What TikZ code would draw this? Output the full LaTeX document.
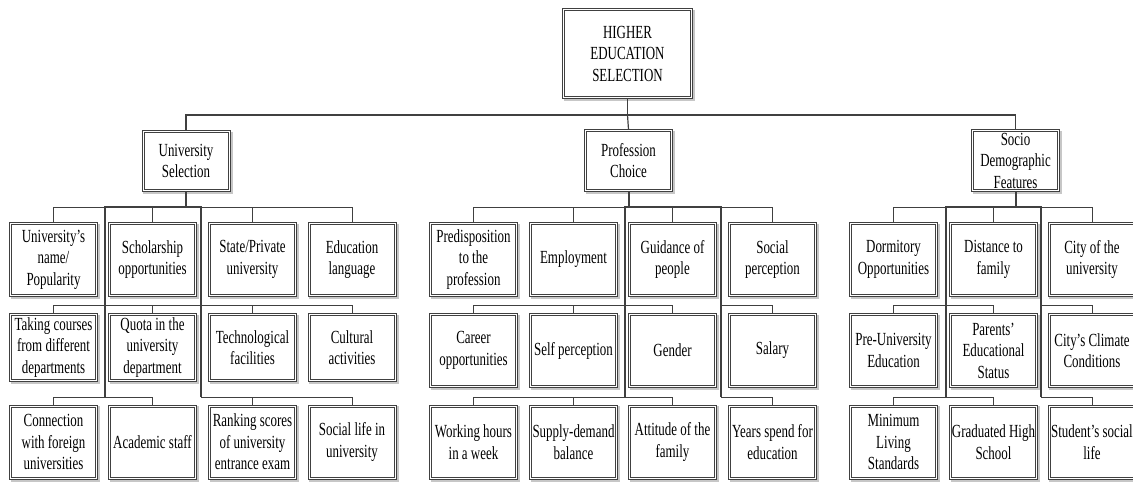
\documentclass[tikz,border=0pt]{standalone}
\usepackage{fontspec}
\setmainfont{Liberation Serif}[FakeStretch=0.7]
\tikzset{
  box/.style={draw=black!75, line width=0.7pt, fill=white, align=center, inner sep=1pt,
    minimum width=88.3pt, minimum height=74.3pt,
    font=\fontsize{18.5}{21.5}\selectfont},
  groupbox/.style={box, minimum width=88pt, minimum height=61.5pt},
  innerframe/.style={draw=black!75, line width=0.7pt},
  boxshadow/.style={draw=black!22, line width=1.8pt},
  link/.style={draw=black!75, line width=0.9pt},
  bus/.style={draw=black!75, line width=2pt}
}
\begin{document}
\begin{tikzpicture}[x=1pt, y=-1pt]
\useasboundingbox (0,0) rectangle (1133,483);
% root
\node[box, minimum width=130.3pt, minimum height=90.3pt] (hes) at (627.5,53.5) {HIGHER\\EDUCATION\\SELECTION};
% groups
\node[groupbox] (us) at (186,161) {University\\Selection};
\node[groupbox] (pc) at (628.5,160.5) {Profession\\Choice};
\node[groupbox] (sd) at (1015.5,160.5) {Socio\\Demographic\\Features};
% university selection
\node[box] (u11) at (53.5,259.5) {University's\\name/\\Popularity};
\node[box] (u12) at (152.5,259.5) {Scholarship\\opportunities};
\node[box] (u13) at (252.5,259.5) {State/Private\\university};
\node[box] (u14) at (352,259.5) {Education\\language};
\node[box, minimum height=68.3pt] (u21) at (53.5,347.5) {Taking courses\\from different\\departments};
\node[box, minimum height=68.3pt] (u22) at (152.5,347.5) {Quota in the\\university\\department};
\node[box, minimum height=68.3pt] (u23) at (252.5,347.5) {Technological\\facilities};
\node[box, minimum height=68.3pt] (u24) at (352,347.5) {Cultural\\activities};
\node[box] (u31) at (53.5,442) {Connection\\with foreign\\universities};
\node[box] (u32) at (152.5,442) {Academic staff};
\node[box] (u33) at (252.5,442) {Ranking scores\\of university\\entrance exam};
\node[box] (u34) at (352,442) {Social life in\\university};
% profession choice
\node[box] (p11) at (473.5,259.5) {Predisposition\\to the\\profession};
\node[box] (p12) at (573.5,259.5) {Employment};
\node[box] (p13) at (672.5,259.5) {Guidance of\\people};
\node[box] (p14) at (772.5,259.5) {Social\\perception};
\node[box] (p21) at (473.5,350.5) {Career\\opportunities};
\node[box] (p22) at (573.5,350.5) {Self perception};
\node[box] (p23) at (672.5,350.5) {Gender};
\node[box] (p24) at (772.5,350.5) {Salary};
\node[box] (p31) at (473.5,442) {Working hours\\in a week};
\node[box] (p32) at (573.5,442) {Supply-demand\\balance};
\node[box] (p33) at (672.5,442) {Attitude of the\\family};
\node[box] (p34) at (772.5,442) {Years spend for\\education};
% socio demographic features
\node[box] (s11) at (893.5,259.5) {Dormitory\\Opportunities};
\node[box] (s12) at (993.5,259.5) {Distance to\\family};
\node[box] (s13) at (1092,259.5) {City of the\\university};
\node[box] (s21) at (893.5,350.5) {Pre-University\\Education};
\node[box] (s22) at (993.5,350.5) {Parents'\\Educational\\Status};
\node[box] (s23) at (1092,350.5) {City's Climate\\Conditions};
\node[box] (s31) at (893.5,442) {Minimum\\Living\\Standards};
\node[box] (s32) at (993.5,442) {Graduated High\\School};
\node[box] (s33) at (1092,442) {Student's social\\life};

% double frames and shadows
\foreach \n in {hes,us,pc,sd,u11,u12,u13,u14,u21,u22,u23,u24,u31,u32,u33,u34,
    p11,p12,p13,p14,p21,p22,p23,p24,p31,p32,p33,p34,s11,s12,s13,s21,s22,s23,s31,s32,s33} {
  \draw[innerframe] ([shift={(2.4pt,-2.4pt)}]\n.north west) rectangle ([shift={(-2.4pt,2.4pt)}]\n.south east);
  \draw[boxshadow] ([shift={(1.25pt,-1.8pt)}]\n.north east) -- ([shift={(1.25pt,-1.25pt)}]\n.south east)
    -- ([shift={(1.8pt,-1.25pt)}]\n.south west);
}

% root to groups
\draw[link, line width=1.2pt] (hes.south) -- ++(0,16) coordinate (tj);
\draw[link, line width=1.2pt] (tj) -| (us.north);
\draw[link, line width=1.2pt] (tj) -| (sd.north);
\draw[link, line width=1.2pt] (tj) -- (pc.north);

% junctions of the buses
\coordinate (uL) at (105,207); \coordinate (uR) at (201,207);
\coordinate (uL2) at (105,305); \coordinate (uR2) at (201,305);
\coordinate (uL3) at (105,397); \coordinate (uR3) at (201,397);
\coordinate (pL) at (625,207); \coordinate (pR) at (721,207);
\coordinate (pL2) at (625,305); \coordinate (pR2) at (721,305);
\coordinate (pL3) at (625,397); \coordinate (pR3) at (721,397);
\coordinate (sL) at (946,207); \coordinate (sR) at (1041,207);
\coordinate (sL2) at (946,305); \coordinate (sR2) at (1041,305);
\coordinate (sL3) at (946,397); \coordinate (sR3) at (1041,397);

% university selection
\draw[link] (uL) -| (u11.north); \draw[link] (uL) -| (u12.north);
\draw[link] (uR) -| (u13.north); \draw[link] (uR) -| (u14.north);
\draw[link] (uL2) -| (u21.north); \draw[link] (uL2) -| (u22.north);
\draw[link] (uR2) -| (u23.north); \draw[link] (uR2) -| (u24.north);
\draw[link] (uL2) -- (uR2);
\draw[link] (uL3) -| (u31.north); \draw[link] (uL3) -| (u32.north);
\draw[link] (uR3) -| (u33.north); \draw[link] (uR3) -| (u34.north);
\draw[bus] (us.south) -- (us.south |- uL);
\draw[bus] (uL3) -- (uL) -- (uR) -- (uR3);

% profession choice
\draw[link] (pL) -| (p11.north); \draw[link] (pL) -| (p12.north);
\draw[link] (pL) -| (p13.north); \draw[link] (pR) -| (p14.north);
\draw[link] (pL2) -| (p21.north); \draw[link] (pL2) -| (p22.north);
\draw[link] (pL2) -| (p23.north); \draw[link] (pR2) -| (p24.north);
\draw[link] (pL3) -| (p31.north); \draw[link] (pL3) -| (p32.north);
\draw[link] (pL3) -| (p33.north); \draw[link] (pR3) -| (p34.north);
\draw[bus] (pc.south) -- (pc.south |- pL);
\draw[bus] (pL3) -- (pL) -- (pR) -- (pR3);

% socio demographic features
\draw[link] (sL) -| (s11.north); \draw[link] (sL) -| (s12.north);
\draw[link] (sR) -| (s13.north);
\draw[link] (sL2) -| (s21.north); \draw[link] (sL2) -| (s22.north);
\draw[link] (sR2) -| (s23.north);
\draw[link] (sL3) -| (s31.north); \draw[link] (sL3) -| (s32.north);
\draw[link] (sR3) -| (s33.north);
\draw[bus] (sd.south) -- (sd.south |- sL);
\draw[bus] (sL3) -- (sL) -- (sR) -- (sR3);
\end{tikzpicture}
\end{document}
